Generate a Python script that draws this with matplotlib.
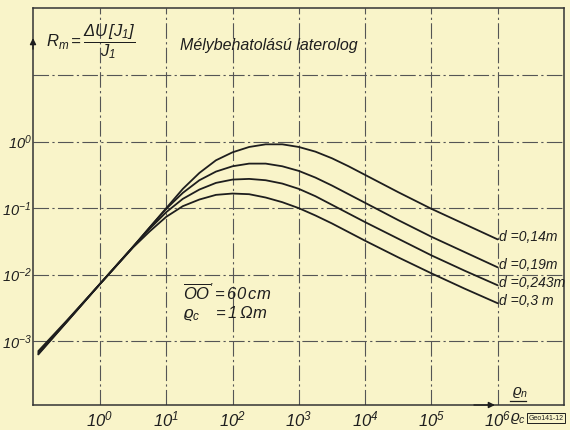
import matplotlib
matplotlib.use('Agg')
import matplotlib.pyplot as plt
import numpy as np

# log10 of rho_n / rho_c
log_rho = [-0.93, -0.5, 0.0, 0.5, 0.75, 1.0, 1.25, 1.5, 1.75, 2.0, 2.25, 2.5,
           2.75, 3.0, 3.25, 3.5, 3.75, 4.0, 4.5, 5.0, 5.5, 6.0]

# log10 of R_m for each electrode distance d
log_rm_014 = [-3.20, -2.71, -2.14, -1.58, -1.29, -1.00, -0.71, -0.47, -0.28, -0.16, -0.08, -0.04,
              -0.04, -0.08, -0.15, -0.25, -0.37, -0.50, -0.76, -1.01, -1.24, -1.47]
log_rm_019 = [-3.19, -2.71, -2.14, -1.58, -1.29, -1.01, -0.77, -0.58, -0.45, -0.37, -0.33, -0.33,
              -0.37, -0.44, -0.54, -0.66, -0.79, -0.92, -1.18, -1.43, -1.66, -1.89]
log_rm_0243 = [-3.17, -2.70, -2.14, -1.58, -1.31, -1.06, -0.86, -0.72, -0.62, -0.57, -0.56, -0.58,
               -0.63, -0.71, -0.82, -0.95, -1.08, -1.21, -1.46, -1.71, -1.94, -2.16]
log_rm_03 = [-3.15, -2.69, -2.14, -1.59, -1.35, -1.13, -0.97, -0.87, -0.80, -0.78, -0.79, -0.84,
             -0.91, -1.00, -1.11, -1.23, -1.36, -1.49, -1.74, -1.98, -2.21, -2.43]

curve_labels = ['d =0,14m', 'd =0,19m', 'd =0,243m', 'd =0,3 m']

x_tick_exp = [0, 1, 2, 3, 4, 5, 6]
y_tick_exp = [-3, -2, -1, 0]
y_grid_exp = [-3, -2, -1, 0, 1]

bg = '#f9f4c9'
ink = '#1e1e1e'
fam = 'Liberation Sans'

plt.rcParams['mathtext.fontset'] = 'custom'
plt.rcParams['mathtext.rm'] = fam + ':italic'
plt.rcParams['mathtext.it'] = fam + ':italic'
plt.rcParams['mathtext.sf'] = fam + ':italic'
plt.rc('font', **{'size': 11, 'family': [fam, 'DejaVu Sans'], 'style': 'italic'})

fig = plt.figure(figsize=(5.7, 4.3), dpi=100, facecolor=bg)
ax = fig.add_axes([33 / 570, 1 - 405 / 430, 531 / 570, 397 / 430])
ax.set_facecolor(bg)
ax.set_xscale('log')
ax.set_yscale('log')
ax.set_xlim(10 ** -1.01, 10 ** 7.0)
ax.set_ylim(10 ** -3.96, 10 ** 2.01)

# dash-dot grid like the drawn sheet
grid_style = dict(color='#555555', lw=0.8, ls=(0, (14, 3, 2, 3)), zorder=1)
for e in x_tick_exp:
    ax.axvline(10.0 ** e, **grid_style)
for e in y_grid_exp:
    ax.axhline(10.0 ** e, **grid_style)

x = 10.0 ** np.array(log_rho)
series = [log_rm_014, log_rm_019, log_rm_0243, log_rm_03]
for s in series:
    ax.plot(x, 10.0 ** np.array(s), color=ink, lw=1.3, zorder=3,
            solid_capstyle='round', solid_joinstyle='round')

# curve labels at the right ends
for s, lab in zip(series, curve_labels):
    ax.text(10.0 ** 6.02, 10.0 ** (s[-1] + 0.04), lab, fontsize=10, va='center', ha='left', color=ink)

# ticks
ax.set_xticks([10.0 ** e for e in x_tick_exp])
ax.set_xticklabels(['$10^{%d}$' % e for e in x_tick_exp])
ax.set_yticks([10.0 ** e for e in y_tick_exp])
ax.set_yticklabels(['$10^{%d}$' % e for e in y_tick_exp])
ax.minorticks_off()
ax.tick_params(length=0, colors=ink)
ax.tick_params(axis='x', pad=3, labelsize=12)
ax.tick_params(axis='y', pad=1, labelsize=10.5)

for sp in ax.spines.values():
    sp.set_color('#333333')
    sp.set_linewidth(1.1)

# axis arrows
ax.annotate('', xy=(10 ** 6.0, 10 ** -3.96), xytext=(10 ** 5.6, 10 ** -3.96),
            arrowprops=dict(arrowstyle='-|>', color=ink, lw=1.0, mutation_scale=9),
            annotation_clip=False, zorder=4)
ax.annotate('', xy=(10 ** -1.01, 10 ** 1.6), xytext=(10 ** -1.01, 10 ** 1.35),
            arrowprops=dict(arrowstyle='-|>', color=ink, lw=1.0, mutation_scale=9),
            annotation_clip=False, zorder=4)

# header texts
ax.text(10 ** -0.82, 10 ** 1.50, r'$R_m = \dfrac{\Delta U\,[J_1]}{J_1}$', fontsize=12,
        va='center', ha='left', color=ink)
ax.text(10 ** 1.2, 10 ** 1.45, 'Mélybehatolású laterolog', fontsize=11.5,
        va='center', ha='left', color=ink)

# parameters
ax.text(10 ** 1.25, 10 ** -2.27, r"$\overline{OO}'=60\,cm$", fontsize=12,
        va='center', ha='left', color=ink)
ax.text(10 ** 1.25, 10 ** -2.58, r'$\varrho_c\ \ \ =1\,\Omega m$', fontsize=12,
        va='center', ha='left', color=ink)

# x axis quantity rho_n / rho_c
fig.text(512 / 570, 1 - 392 / 430, r'$\varrho_n$', fontsize=11, va='center', ha='left', color=ink)
fig.text(510 / 570, 1 - 418 / 430, r'$\varrho_c$', fontsize=11, va='center', ha='left', color=ink)
fig.add_artist(plt.Line2D([510 / 570, 526 / 570], [1 - 401 / 430, 1 - 401 / 430],
                          color=ink, lw=0.9))
fig.text(546 / 570, 1 - 418 / 430, 'Geo141-12', fontsize=5, style='normal', va='center',
         ha='center', color=ink,
         bbox=dict(boxstyle='square,pad=0.2', fc=bg, ec=ink, lw=0.7))

plt.savefig('out.png', dpi=100, facecolor=bg)
